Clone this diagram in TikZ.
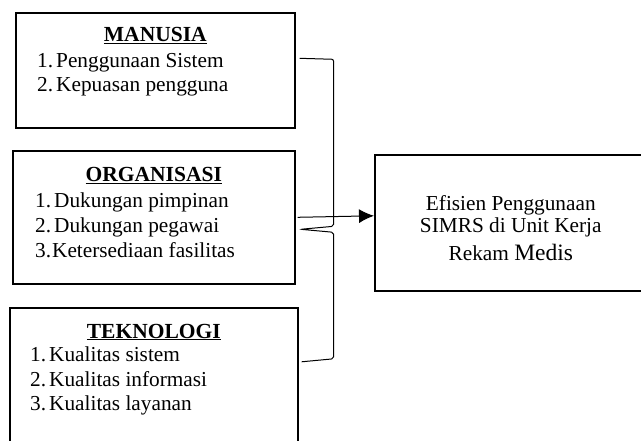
\documentclass[tikz,border=0pt]{standalone}
\usepackage{fontspec}
\setmainfont{Liberation Serif}
\usetikzlibrary{arrows.meta,calc,positioning}

\newcommand{\itm}[2]{\makebox[19pt][l]{#1}#2}

\begin{document}
\begin{tikzpicture}[x=1pt,y=-1pt,
    box/.style={draw, line width=1.6pt, inner sep=0pt, anchor=north west},
    head/.style={font=\fontsize{21.5}{24}\selectfont\bfseries, anchor=base, inner sep=0pt},
    item/.style={font=\fontsize{21.3}{24}\selectfont, anchor=base west, inner sep=0pt},
    txt/.style={font=\fontsize{21.3}{24}\selectfont, anchor=base, inner sep=0pt}]
    \clip (0,0) rectangle (641,441);

    \node[box, minimum width=279, minimum height=115] (man) at (15,12)  {};
    \node[box, minimum width=282, minimum height=133] (org) at (12,150) {};
    \node[box, minimum width=288, minimum height=140] (tek) at (9,307)  {};
    \node[box, minimum width=272, minimum height=136] (efi) at (374,154) {};

    % manusia
    \node[head] (manh) at ($(man.north)+(0,30)$) {\underline{MANUSIA}};
    \node[item] (man1) at ($(man.north west)+(22,56)$) {\itm{1.}{Penggunaan Sistem}};
    \node[item] (man2) at ($(man.north west)+(22,80)$) {\itm{2.}{Kepuasan pengguna}};

    % organisasi
    \node[head] (orgh) at ($(org.north)+(0,32)$) {\underline{ORGANISASI}};
    \node[item] (org1) at ($(org.north west)+(23,58)$)  {\itm{1.}{Dukungan pimpinan}};
    \node[item] (org2) at ($(org.north west)+(23,83)$)  {\itm{2.}{Dukungan pegawai}};
    \node[item] (org3) at ($(org.north west)+(23,108)$) {3.\kern1pt Ketersediaan fasilitas};

    % teknologi
    \node[head] (tekh) at ($(tek.north)+(0,31)$) {\underline{TEKNOLOGI}};
    \node[item] (tek1) at ($(tek.north west)+(21,55)$)  {\itm{1.}{Kualitas sistem}};
    \node[item] (tek2) at ($(tek.north west)+(21,79)$)  {\itm{2.}{Kualitas informasi}};
    \node[item] (tek3) at ($(tek.north west)+(21,103)$) {\itm{3.}{Kualitas layanan}};

    % efisien
    \node[txt] (efi1) at ($(efi.north)+(0,57)$)  {Efisien Penggunaan};
    \node[txt] (efi2) at ($(efi.north)+(0,79)$)  {SIMRS di Unit Kerja};
    \node[txt] (efi3) at ($(efi.north)+(0,107)$) {Rekam {\fontsize{23.5}{24}\selectfont Medis}};

    % brace
    \coordinate (btop) at ($(man.east)+(4,-12)$);
    \coordinate (btip) at ($(org.east)+(5,12)$);
    \coordinate (bbot) at ($(tek.east)+(3,-16)$);
    \draw[line width=1pt, rounded corners=2pt] (btop) -- ($(btop)+(34,1)$) -- ($(btip)+(33,-3)$)
        -- (btip) -- ($(btip)+(33,3)$) -- ($(bbot)+(32,-3)$) -- (bbot);

    \draw[line width=1pt, -{Latex[length=15pt,width=14pt]}] ($(org.east)+(2,0)$) -- ($(efi.west)+(0,-7)$);

\end{tikzpicture}
\end{document}
